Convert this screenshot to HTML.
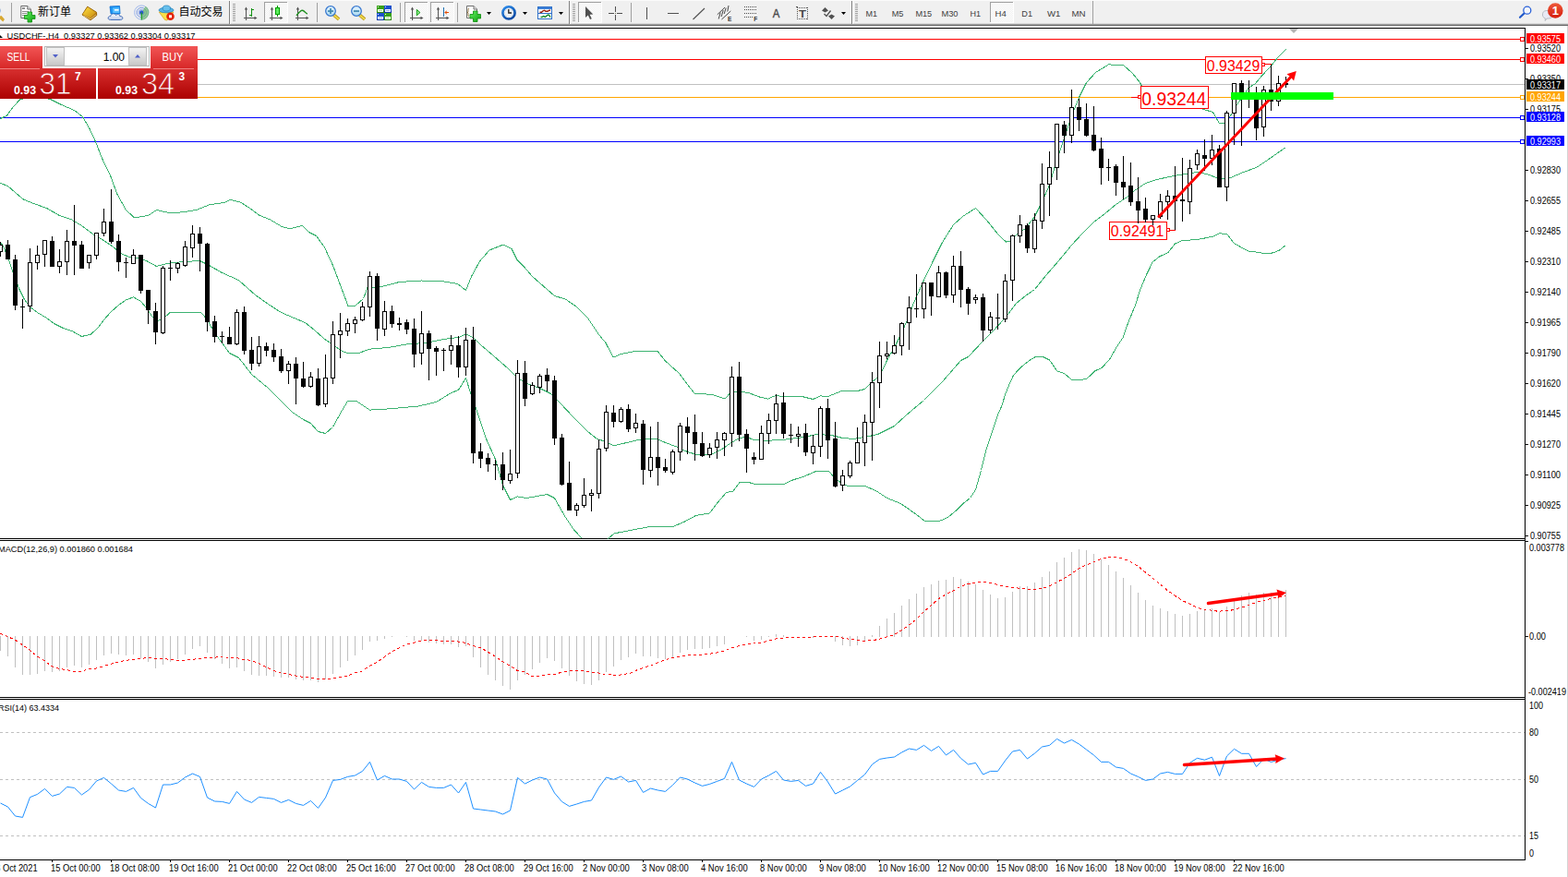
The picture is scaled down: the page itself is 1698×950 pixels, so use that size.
<!DOCTYPE html>
<html><head><meta charset="utf-8"><title>USDCHF H4</title>
<style>
html,body{margin:0;padding:0;background:#fff;}
body{width:1698px;height:950px;overflow:hidden;font-family:"Liberation Sans",sans-serif;}
svg{display:block;position:absolute;left:0;top:0;font-family:"Liberation Sans",sans-serif;}
text{white-space:pre;}
</style></head><body>
<svg width="1698" height="950" viewBox="0 0 1698 950">
<defs>
<linearGradient id="gSell" x1="0" y1="0" x2="0" y2="1"><stop offset="0" stop-color="#f25555"/><stop offset="1" stop-color="#d62626"/></linearGradient>
<linearGradient id="gPrice" x1="0" y1="0" x2="0" y2="1"><stop offset="0" stop-color="#d83030"/><stop offset="1" stop-color="#ac0000"/></linearGradient>
<linearGradient id="gPriceU" gradientUnits="userSpaceOnUse" x1="0" y1="74" x2="0" y2="107"><stop offset="0" stop-color="#d83030"/><stop offset="1" stop-color="#ac0000"/></linearGradient>
<linearGradient id="gBtn" x1="0" y1="0" x2="0" y2="1"><stop offset="0" stop-color="#f4f4f4"/><stop offset="1" stop-color="#c8c8c8"/></linearGradient>
<linearGradient id="gBadge" x1="0" y1="0" x2="0" y2="1"><stop offset="0" stop-color="#ee5a3a"/><stop offset="1" stop-color="#d51c0c"/></linearGradient>
<linearGradient id="gGold" x1="0" y1="0" x2="1" y2="1"><stop offset="0" stop-color="#ffe040"/><stop offset="1" stop-color="#c88a10"/></linearGradient>
<linearGradient id="gPlus" x1="0" y1="0" x2="1" y2="1"><stop offset="0" stop-color="#60f060"/><stop offset="1" stop-color="#10a010"/></linearGradient>
<linearGradient id="gCloud" x1="0" y1="0" x2="0" y2="1"><stop offset="0" stop-color="#ffffff"/><stop offset="1" stop-color="#b8c8e8"/></linearGradient>
<linearGradient id="gLens" x1="0" y1="0" x2="0" y2="1"><stop offset="0" stop-color="#e8f6ff"/><stop offset="1" stop-color="#a8d8f0"/></linearGradient>
<pattern id="chk" width="2" height="2" patternUnits="userSpaceOnUse"><rect width="2" height="2" fill="#ffffff"/><rect width="1" height="1" fill="#f0f0f0"/><rect x="1" y="1" width="1" height="1" fill="#f0f0f0"/></pattern>
</defs>

<g shape-rendering="crispEdges">
<rect x="0" y="0" width="1698" height="950" fill="#ffffff"/>
<rect x="0" y="0" width="1698" height="28" fill="#f0f0f0"/>
<rect x="0" y="0" width="1698" height="1" fill="#fbfbfb"/>
<rect x="0" y="25" width="1698" height="1" fill="#d9d9d9"/>
<rect x="0" y="26" width="1698" height="1" fill="#a0a0a0"/>
<rect x="0" y="27" width="1698" height="1" fill="#6a6a6a"/>
<rect x="1697" y="28" width="1" height="922" fill="#d4d4d4"/>
<rect x="0" y="30" width="1652" height="1" fill="#000"/>
<rect x="0" y="583" width="1652" height="1" fill="#000"/>
<rect x="0" y="585" width="1652" height="1" fill="#000"/>
<rect x="0" y="755" width="1652" height="1" fill="#000"/>
<rect x="0" y="757" width="1652" height="1" fill="#000"/>
<rect x="0" y="931" width="1652" height="1" fill="#000"/>
<rect x="1651" y="30" width="1" height="902" fill="#000"/>
</g>
<g shape-rendering="crispEdges">
<rect x="0" y="42" width="1651" height="1" fill="#ff0000"/>
<rect x="1646.5" y="40.5" width="4" height="4" fill="#fff" stroke="#ff0000" stroke-width="1"/>
<rect x="0" y="64" width="1651" height="1" fill="#ff0000"/>
<rect x="1646.5" y="62.5" width="4" height="4" fill="#fff" stroke="#ff0000" stroke-width="1"/>
<rect x="0" y="91" width="1651" height="1" fill="#c0c0c0"/>
<rect x="0" y="105" width="1651" height="1" fill="#ffa500"/>
<rect x="1646.5" y="103.5" width="4" height="4" fill="#fff" stroke="#ffa500" stroke-width="1"/>
<rect x="0" y="127" width="1651" height="1" fill="#0000ff"/>
<rect x="1646.5" y="125.5" width="4" height="4" fill="#fff" stroke="#0000ff" stroke-width="1"/>
<rect x="0" y="153" width="1651" height="1" fill="#0000ff"/>
<rect x="1646.5" y="151.5" width="4" height="4" fill="#fff" stroke="#0000ff" stroke-width="1"/>
</g>
<g shape-rendering="crispEdges">
<polyline points="0.5,128.5 7.5,125.1 14.5,115.5 21.5,108.0 30.5,105.0 38.5,104.0 47.5,105.5 55.5,108.0 66.5,113.5 80.5,119.5 89.5,126.5 96.5,138.5 103.5,153.5 110.5,171.5 120.5,192.5 126.5,209.5 136.5,227.5 145.5,235.9 160.5,233.5 169.5,227.5 184.5,230.9 200.5,229.5 212.5,227.5 226.5,221.9 242.5,219.5 249.5,216.5 260.5,219.1 270.5,225.5 280.5,233.1 292.5,237.9 304.5,245.1 313.5,247.9 327.5,244.5 334.5,251.5 342.5,255.5 351.5,268.0 360.5,287.5 369.5,311.5 377.0,331.5 384.5,331.5 393.5,323.5 398.0,311.5 411.5,310.9 432.5,305.5 456.5,304.0 477.5,304.5 495.5,307.5 504.5,314.5 510.5,299.5 519.5,283.0 530.0,271.0 545.0,265.0 554.0,269.5 560.0,281.5 567.5,289.0 576.5,299.5 588.5,310.0 600.5,320.5 612.5,324.1 624.5,332.5 636.5,344.5 648.5,362.5 656.0,371.5 664.1,387.1 672.5,383.5 687.5,380.5 712.1,380.5 720.5,391.0 735.5,404.5 744.5,416.5 752.0,426.1 771.5,427.5 785.0,432.1 791.0,425.5 798.5,424.0 810.5,425.5 822.5,430.0 831.5,432.1 839.9,428.5 852.5,429.9 868.5,429.5 880.5,432.5 888.5,428.9 896.5,429.5 910.5,423.9 928.5,423.5 936.5,421.5 944.5,413.5 952.5,407.5 960.5,390.5 968.5,376.5 976.5,360.5 982.5,346.5 988.5,330.5 1000.5,303.5 1010.5,282.5 1020.5,262.5 1032.5,243.5 1042.5,234.5 1056.5,225.5 1068.5,238.5 1080.5,253.5 1089.5,262.1 1094.5,260.9 1100.5,254.5 1110.5,247.5 1120.5,234.5 1128.5,218.5 1136.5,200.5 1142.5,179.5 1150.5,155.5 1160.5,125.5 1168.5,105.5 1176.5,89.5 1186.5,78.5 1200.5,69.9 1216.5,70.5 1226.5,79.5 1234.5,89.5 1236.5,93.5 1303.5,118.5 1313.5,121.5 1320.5,133.9 1325.5,133.9 1332.5,125.5 1339.5,113.5 1352.1,95.2 1359.5,90.5 1365.5,83.1 1376.3,71.5 1383.5,62.5 1392.5,53.5" fill="none" stroke="#3cb371" stroke-width="1" />
<polyline points="0.5,198.5 8.5,201.5 16.5,208.5 25.5,216.1 36.5,220.5 50.5,225.5 64.5,233.5 77.5,237.9 88.5,244.5 100.5,253.5 112.5,260.5 122.5,267.5 132.5,275.5 140.5,278.5 148.5,279.1 158.5,282.5 169.5,288.5 176.5,286.5 188.5,284.5 200.5,283.5 216.5,282.5 226.5,287.5 240.5,295.5 258.5,303.5 276.5,319.5 290.5,329.5 304.5,338.5 318.5,344.5 330.5,349.5 340.5,357.5 350.5,366.5 360.5,373.5 370.5,380.5 376.5,382.5 388.5,382.5 400.5,378.1 420.5,376.5 440.5,372.9 460.5,371.5 480.5,367.5 496.5,365.5 504.5,362.1 512.5,365.5 520.5,373.5 534.5,385.5 550.5,399.5 560.5,409.5 570.5,415.5 584.5,420.5 596.5,426.5 606.5,436.5 620.5,451.5 636.5,467.5 646.5,475.5 656.5,478.5 664.5,482.9 674.5,480.5 688.5,477.1 700.5,475.9 712.5,475.9 720.5,479.5 732.5,483.9 744.5,489.5 754.5,492.5 768.5,492.9 780.5,487.5 790.5,480.5 800.5,474.5 808.5,473.5 816.5,476.5 828.5,477.5 850.5,476.1 870.5,473.5 884.5,470.5 900.5,471.5 912.5,474.5 924.5,475.5 936.5,473.5 950.5,470.5 968.5,461.5 980.5,450.5 1000.5,433.5 1020.5,413.5 1040.5,390.5 1048.5,386.5 1064.5,369.5 1074.5,359.5 1088.5,344.5 1100.5,328.5 1110.5,320.5 1120.5,313.5 1132.5,298.5 1146.5,282.5 1160.5,265.5 1172.5,252.5 1184.5,240.5 1196.5,231.5 1208.5,221.5 1220.5,213.5 1228.5,206.5 1240.5,198.5 1252.5,194.5 1268.5,191.1 1282.5,188.5 1296.5,186.5 1306.5,188.5 1316.5,192.1 1326.5,193.5 1332.5,192.5 1346.5,186.5 1360.5,181.5 1372.5,173.5 1382.5,166.5 1392.5,159.5" fill="none" stroke="#3cb371" stroke-width="1" />
<polyline points="0.5,262.5 3.5,266.5 8.5,278.5 14.5,296.5 20.5,312.5 26.5,324.5 32.5,332.5 40.5,338.5 50.5,344.5 58.5,350.5 68.5,355.5 78.5,358.9 88.5,364.5 98.5,362.1 106.5,354.5 112.5,346.5 120.5,337.5 128.5,330.5 136.5,324.9 144.5,321.9 152.5,326.5 158.5,333.5 164.5,342.5 170.5,347.5 176.5,345.5 184.5,338.1 200.5,338.1 217.5,338.1 224.5,346.5 232.5,360.5 248.5,382.5 258.5,387.5 272.5,405.5 290.5,420.5 304.5,434.5 316.5,446.5 328.5,454.5 336.5,458.5 344.5,467.5 352.5,469.5 360.5,462.5 370.5,444.5 376.5,434.5 386.5,434.9 400.5,444.1 420.5,442.9 452.5,440.1 472.5,435.5 488.5,425.5 496.5,422.5 504.5,409.5 510.5,428.5 516.5,445.5 526.5,475.5 536.5,497.5 544.5,525.5 552.5,541.5 560.5,537.9 570.5,539.5 592.5,535.5 600.5,539.5 612.5,560.5 621.5,574.0 630.5,583.5" fill="none" stroke="#3cb371" stroke-width="1" />
<polyline points="658.5,583.5 665.0,577.9 687.5,573.5 704.0,570.5 729.5,570.1 741.5,565.0 753.5,558.5 768.5,556.0 777.5,544.0 786.5,533.5 794.0,532.0 800.9,522.5 810.5,522.5 819.5,524.8 848.0,524.8 858.5,520.0 870.5,516.1 882.5,511.0 897.5,510.5 903.5,517.0 912.5,524.5 918.5,526.5 936.5,526.5 948.5,531.5 960.5,539.5 975.5,545.5 990.5,556.0 1001.0,564.1 1016.0,565.0 1026.5,560.5 1035.5,553.0 1043.0,545.5 1050.5,539.5 1056.5,530.5 1062.5,509.5 1068.5,485.5 1074.5,467.5 1080.5,449.5 1084.5,440.5 1088.7,427.1 1092.9,416.5 1097.0,407.5 1101.7,401.8 1108.8,395.0 1114.7,390.5 1120.5,387.0 1130.0,386.8 1136.5,390.0 1144.7,401.8 1152.3,404.5 1161.2,411.8 1170.0,411.8 1177.1,410.0 1185.9,401.8 1193.5,398.2 1201.8,388.8 1208.9,376.5 1216.0,365.8 1221.8,349.3 1229.5,330.5 1234.5,314.5 1241.3,297.9 1248.3,283.8 1255.4,278.1 1265.3,273.2 1272.4,264.0 1279.4,260.9 1290.7,259.8 1300.6,258.8 1313.4,256.2 1320.4,252.7 1328.9,253.8 1336.0,263.3 1344.5,268.2 1352.9,272.5 1362.8,273.2 1369.9,275.0 1378.4,273.9 1385.5,271.1 1392.2,265.7" fill="none" stroke="#3cb371" stroke-width="1" />
</g>
<g shape-rendering="crispEdges">
<rect x="1225" y="105" width="8" height="1" fill="#ff0000"/>
<rect x="1232.5" y="103.5" width="3" height="3" fill="#fff" stroke="#ff0000"/>
<rect x="1366.5" y="68.5" width="3" height="3" fill="#fff" stroke="#ff0000"/>
<rect x="1370" y="69" width="7" height="1" fill="#ff0000"/>
<rect x="1263.5" y="247.5" width="3" height="3" fill="#fff" stroke="#ff0000"/>
<rect x="1267" y="249" width="6" height="1" fill="#ff0000"/>
</g>
<rect x="1235.5" y="93.5" width="73" height="24" fill="#fff" stroke="#ff0000" stroke-width="1" shape-rendering="crispEdges"/>
<text x="1236.3" y="113.8" font-size="21" fill="#ff0000" textLength="70" lengthAdjust="spacingAndGlyphs" >0.93244</text>
<rect x="1305.5" y="61.5" width="61" height="18" fill="#fff" stroke="#ff0000" stroke-width="1" shape-rendering="crispEdges"/>
<text x="1306.8" y="76.9" font-size="16.7" fill="#ff0000" textLength="57.5" lengthAdjust="spacingAndGlyphs" >0.93429</text>
<rect x="1201.5" y="240.5" width="62" height="19" fill="#fff" stroke="#ff0000" stroke-width="1" shape-rendering="crispEdges"/>
<text x="1202.8" y="255.9" font-size="16.7" fill="#ff0000" textLength="57.5" lengthAdjust="spacingAndGlyphs" >0.92491</text>
<g shape-rendering="crispEdges">
<path d="M0 262h1v16h-1zM-2 265h5v8h-5zM8 260h1v21h-1zM6 265h5v16h-5zM16 276h1v60h-1zM14 281h5v50h-5zM24 324h1v32h-1zM22 332h5v1h-5zM32 269h1v69h-1zM30 284h5v48h-5zM40 266h1v26h-1zM38 276h5v9h-5zM48 260h1v29h-1zM46 260h5v16h-5zM56 256h1v33h-1zM54 261h5v28h-5zM64 270h1v26h-1zM62 283h5v6h-5zM72 249h1v49h-1zM70 261h5v23h-5zM80 222h1v76h-1zM78 261h5v5h-5zM88 261h1v30h-1zM86 265h5v26h-5zM96 276h1v15h-1zM94 276h5v9h-5zM104 252h1v29h-1zM102 252h5v25h-5zM112 226h1v30h-1zM110 240h5v13h-5zM120 205h1v59h-1zM118 240h5v22h-5zM128 254h1v40h-1zM126 261h5v23h-5zM136 279h1v22h-1zM134 284h5v1h-5zM144 270h1v16h-1zM142 276h5v10h-5zM152 276h1v42h-1zM150 276h5v39h-5zM160 314h1v37h-1zM158 314h5v22h-5zM168 328h1v45h-1zM166 337h5v23h-5zM176 288h1v74h-1zM174 290h5v71h-5zM184 282h1v22h-1zM182 290h5v1h-5zM192 284h1v12h-1zM190 285h5v6h-5zM200 261h1v28h-1zM198 267h5v21h-5zM208 244h1v35h-1zM206 253h5v16h-5zM216 246h1v48h-1zM214 253h5v11h-5zM224 263h1v96h-1zM222 264h5v85h-5zM232 342h1v29h-1zM230 348h5v17h-5zM240 359h1v13h-1zM238 364h5v1h-5zM248 354h1v19h-1zM246 365h5v8h-5zM256 335h1v39h-1zM254 338h5v35h-5zM264 332h1v52h-1zM262 338h5v42h-5zM272 365h1v36h-1zM270 379h5v15h-5zM280 364h1v33h-1zM278 375h5v19h-5zM288 371h1v15h-1zM286 375h5v5h-5zM296 372h1v20h-1zM294 379h5v8h-5zM304 378h1v26h-1zM302 386h5v16h-5zM312 391h1v25h-1zM310 394h5v8h-5zM320 387h1v51h-1zM318 394h5v16h-5zM328 392h1v28h-1zM326 410h5v9h-5zM336 403h1v17h-1zM334 408h5v11h-5zM344 399h1v41h-1zM342 410h5v29h-5zM352 384h1v57h-1zM350 409h5v29h-5zM360 348h1v68h-1zM358 362h5v48h-5zM368 339h1v49h-1zM366 358h5v5h-5zM376 345h1v19h-1zM374 350h5v9h-5zM384 343h1v18h-1zM382 346h5v5h-5zM392 327h1v21h-1zM390 332h5v15h-5zM400 294h1v49h-1zM398 299h5v34h-5zM408 296h1v73h-1zM406 299h5v57h-5zM416 326h1v38h-1zM414 337h5v20h-5zM424 331h1v24h-1zM422 337h5v14h-5zM432 344h1v14h-1zM430 350h5v2h-5zM440 346h1v16h-1zM438 349h5v8h-5zM448 345h1v53h-1zM446 356h5v28h-5zM456 337h1v58h-1zM454 361h5v22h-5zM464 358h1v54h-1zM462 361h5v17h-5zM472 375h1v32h-1zM470 377h5v4h-5zM480 377h1v25h-1zM478 379h5v1h-5zM488 363h1v32h-1zM486 374h5v6h-5zM496 364h1v45h-1zM494 374h5v24h-5zM504 355h1v52h-1zM502 368h5v30h-5zM512 354h1v148h-1zM510 368h5v123h-5zM520 480h1v27h-1zM518 489h5v8h-5zM528 491h1v20h-1zM526 496h5v7h-5zM536 498h1v22h-1zM534 503h5v1h-5zM544 490h1v41h-1zM542 503h5v17h-5zM552 487h1v37h-1zM550 513h5v8h-5zM560 390h1v128h-1zM558 404h5v109h-5zM568 391h1v49h-1zM566 404h5v28h-5zM576 414h1v14h-1zM574 417h5v10h-5zM584 405h1v21h-1zM582 407h5v13h-5zM592 399h1v25h-1zM590 406h5v7h-5zM600 407h1v75h-1zM598 412h5v63h-5zM608 470h1v56h-1zM606 474h5v51h-5zM616 500h1v53h-1zM614 523h5v30h-5zM624 545h1v14h-1zM622 547h5v6h-5zM632 518h1v32h-1zM630 536h5v12h-5zM640 530h1v24h-1zM638 534h5v3h-5zM648 476h1v64h-1zM646 486h5v49h-5zM656 439h1v50h-1zM654 446h5v40h-5zM664 439h1v24h-1zM662 447h5v10h-5zM672 441h1v17h-1zM670 443h5v14h-5zM680 438h1v30h-1zM678 443h5v22h-5zM688 448h1v21h-1zM686 458h5v6h-5zM696 455h1v70h-1zM694 459h5v50h-5zM704 462h1v55h-1zM702 495h5v15h-5zM712 457h1v69h-1zM710 495h5v12h-5zM720 497h1v15h-1zM718 506h5v4h-5zM728 487h1v27h-1zM726 489h5v23h-5zM736 458h1v41h-1zM734 461h5v29h-5zM744 452h1v40h-1zM742 462h5v7h-5zM752 449h1v50h-1zM750 468h5v13h-5zM760 468h1v27h-1zM758 480h5v14h-5zM768 480h1v16h-1zM766 485h5v8h-5zM776 468h1v29h-1zM774 476h5v9h-5zM784 468h1v26h-1zM782 469h5v8h-5zM792 397h1v87h-1zM790 408h5v62h-5zM800 392h1v86h-1zM798 408h5v63h-5zM808 465h1v47h-1zM806 470h5v16h-5zM816 490h1v13h-1zM814 495h5v3h-5zM824 461h1v37h-1zM822 469h5v29h-5zM832 448h1v33h-1zM830 455h5v15h-5zM840 427h1v43h-1zM838 437h5v19h-5zM848 425h1v50h-1zM846 436h5v34h-5zM856 459h1v21h-1zM854 471h5v1h-5zM864 462h1v22h-1zM862 470h5v3h-5zM872 459h1v35h-1zM870 469h5v21h-5zM880 471h1v32h-1zM878 483h5v8h-5zM888 440h1v55h-1zM886 442h5v42h-5zM896 432h1v65h-1zM894 442h5v35h-5zM904 457h1v71h-1zM902 475h5v52h-5zM912 509h1v23h-1zM910 515h5v11h-5zM920 499h1v19h-1zM918 501h5v15h-5zM928 463h1v39h-1zM926 479h5v23h-5zM936 449h1v56h-1zM934 457h5v23h-5zM944 403h1v96h-1zM942 414h5v44h-5zM952 370h1v72h-1zM950 385h5v30h-5zM960 370h1v19h-1zM958 383h5v3h-5zM968 363h1v21h-1zM966 374h5v9h-5zM976 349h1v36h-1zM974 350h5v25h-5zM984 321h1v58h-1zM982 333h5v17h-5zM992 297h1v47h-1zM990 334h5v1h-5zM1000 306h1v39h-1zM998 306h5v29h-5zM1008 306h1v36h-1zM1006 306h5v15h-5zM1016 288h1v34h-1zM1014 295h5v27h-5zM1024 294h1v29h-1zM1022 295h5v25h-5zM1032 277h1v51h-1zM1030 288h5v32h-5zM1040 272h1v61h-1zM1038 288h5v26h-5zM1048 311h1v30h-1zM1046 313h5v16h-5zM1056 319h1v10h-1zM1054 322h5v3h-5zM1064 318h1v52h-1zM1062 322h5v36h-5zM1072 338h1v23h-1zM1070 343h5v15h-5zM1080 318h1v39h-1zM1078 344h5v1h-5zM1088 297h1v52h-1zM1086 304h5v42h-5zM1096 254h1v72h-1zM1094 255h5v49h-5zM1104 233h1v30h-1zM1102 243h5v13h-5zM1112 242h1v32h-1zM1110 244h5v25h-5zM1120 231h1v43h-1zM1118 238h5v32h-5zM1128 177h1v71h-1zM1126 199h5v41h-5zM1136 164h1v70h-1zM1134 181h5v19h-5zM1144 134h1v61h-1zM1142 134h5v48h-5zM1152 131h1v35h-1zM1150 135h5v12h-5zM1160 97h1v58h-1zM1158 116h5v31h-5zM1168 107h1v35h-1zM1166 116h5v14h-5zM1176 112h1v36h-1zM1174 129h5v18h-5zM1184 115h1v49h-1zM1182 146h5v17h-5zM1192 149h1v51h-1zM1190 161h5v21h-5zM1200 172h1v24h-1zM1198 181h5v1h-5zM1208 178h1v34h-1zM1206 180h5v18h-5zM1216 169h1v47h-1zM1214 197h5v6h-5zM1224 176h1v47h-1zM1222 201h5v18h-5zM1232 192h1v50h-1zM1230 218h5v10h-5zM1240 214h1v27h-1zM1238 226h5v12h-5zM1248 233h1v11h-1zM1246 233h5v5h-5zM1256 210h1v27h-1zM1254 218h5v17h-5zM1264 206h1v32h-1zM1262 212h5v7h-5zM1272 180h1v69h-1zM1270 212h5v6h-5zM1280 171h1v69h-1zM1278 216h5v2h-5zM1288 173h1v59h-1zM1286 182h5v37h-5zM1296 162h1v22h-1zM1294 166h5v13h-5zM1304 151h1v34h-1zM1302 168h5v4h-5zM1312 146h1v33h-1zM1310 162h5v10h-5zM1320 157h1v46h-1zM1318 161h5v42h-5zM1328 120h1v98h-1zM1326 122h5v81h-5zM1336 90h1v67h-1zM1334 90h5v33h-5zM1344 87h1v71h-1zM1342 90h5v14h-5zM1352 87h1v30h-1zM1350 103h5v1h-5zM1360 94h1v58h-1zM1358 104h5v35h-5zM1368 93h1v55h-1zM1366 97h5v41h-5zM1376 70h1v50h-1zM1374 97h5v13h-5zM1384 82h1v33h-1zM1382 90h5v20h-5zM1392 83h1v12h-1zM1390 90h5v2h-5z" fill="#000"/>
<path d="M-1 266h3v6h-3zM31 285h3v46h-3zM39 277h3v7h-3zM47 261h3v14h-3zM63 284h3v4h-3zM71 262h3v21h-3zM95 277h3v7h-3zM103 253h3v23h-3zM111 241h3v11h-3zM143 277h3v8h-3zM175 291h3v69h-3zM191 286h3v4h-3zM199 268h3v19h-3zM207 254h3v14h-3zM255 339h3v33h-3zM279 376h3v17h-3zM311 395h3v6h-3zM335 409h3v9h-3zM351 410h3v27h-3zM359 363h3v46h-3zM367 359h3v3h-3zM375 351h3v7h-3zM383 347h3v3h-3zM391 333h3v13h-3zM399 300h3v32h-3zM415 338h3v18h-3zM455 362h3v20h-3zM487 375h3v4h-3zM503 369h3v28h-3zM551 514h3v6h-3zM559 405h3v107h-3zM575 418h3v8h-3zM583 408h3v11h-3zM623 548h3v4h-3zM631 537h3v10h-3zM639 535h3v1h-3zM647 487h3v47h-3zM655 447h3v38h-3zM671 444h3v12h-3zM687 459h3v4h-3zM703 496h3v13h-3zM727 490h3v21h-3zM735 462h3v27h-3zM767 486h3v6h-3zM775 477h3v7h-3zM783 470h3v6h-3zM791 409h3v60h-3zM823 470h3v27h-3zM831 456h3v13h-3zM839 438h3v17h-3zM863 471h3v1h-3zM879 484h3v6h-3zM887 443h3v40h-3zM911 516h3v9h-3zM919 502h3v13h-3zM927 480h3v21h-3zM935 458h3v21h-3zM943 415h3v42h-3zM951 386h3v28h-3zM959 384h3v1h-3zM967 375h3v7h-3zM975 351h3v23h-3zM983 334h3v15h-3zM999 307h3v27h-3zM1015 296h3v25h-3zM1031 289h3v30h-3zM1055 323h3v1h-3zM1071 344h3v13h-3zM1087 305h3v40h-3zM1095 256h3v47h-3zM1103 244h3v11h-3zM1119 239h3v30h-3zM1127 200h3v39h-3zM1135 182h3v17h-3zM1143 135h3v46h-3zM1159 117h3v29h-3zM1247 234h3v3h-3zM1255 219h3v15h-3zM1263 213h3v5h-3zM1287 183h3v35h-3zM1295 167h3v11h-3zM1311 163h3v8h-3zM1327 123h3v79h-3zM1335 91h3v31h-3zM1367 98h3v39h-3zM1383 91h3v18h-3z" fill="#fff"/>
</g>
<line x1="1255.0" y1="234.5" x2="1398.6" y2="82.5" stroke="#ff0000" stroke-width="3.0" stroke-linecap="round"/>
<polygon points="1403.8,77.0 1401.1,87.5 1397.8,83.4 1393.5,80.3" fill="#ff0000"/>
<rect x="1333" y="100" width="111" height="8" fill="#00ff00" shape-rendering="crispEdges"/>
<polygon points="1396,31 1406,31 1401,36" fill="#b4b4b4"/>
<g shape-rendering="crispEdges">
<rect x="1652" y="52" width="3" height="1" fill="#000"/>
<rect x="1652" y="85" width="3" height="1" fill="#000"/>
<rect x="1652" y="118" width="3" height="1" fill="#000"/>
<rect x="1652" y="184" width="3" height="1" fill="#000"/>
<rect x="1652" y="217" width="3" height="1" fill="#000"/>
<rect x="1652" y="250" width="3" height="1" fill="#000"/>
<rect x="1652" y="283" width="3" height="1" fill="#000"/>
<rect x="1652" y="316" width="3" height="1" fill="#000"/>
<rect x="1652" y="349" width="3" height="1" fill="#000"/>
<rect x="1652" y="382" width="3" height="1" fill="#000"/>
<rect x="1652" y="415" width="3" height="1" fill="#000"/>
<rect x="1652" y="448" width="3" height="1" fill="#000"/>
<rect x="1652" y="481" width="3" height="1" fill="#000"/>
<rect x="1652" y="514" width="3" height="1" fill="#000"/>
<rect x="1652" y="547" width="3" height="1" fill="#000"/>
<rect x="1652" y="580" width="3" height="1" fill="#000"/>
</g>
<text x="1657" y="56" font-size="10" fill="#000" textLength="33" lengthAdjust="spacingAndGlyphs" >0.93520</text>
<text x="1657" y="89" font-size="10" fill="#000" textLength="33" lengthAdjust="spacingAndGlyphs" >0.93350</text>
<text x="1657" y="122" font-size="10" fill="#000" textLength="33" lengthAdjust="spacingAndGlyphs" >0.93175</text>
<text x="1657" y="188" font-size="10" fill="#000" textLength="33" lengthAdjust="spacingAndGlyphs" >0.92830</text>
<text x="1657" y="221" font-size="10" fill="#000" textLength="33" lengthAdjust="spacingAndGlyphs" >0.92655</text>
<text x="1657" y="254" font-size="10" fill="#000" textLength="33" lengthAdjust="spacingAndGlyphs" >0.92485</text>
<text x="1657" y="287" font-size="10" fill="#000" textLength="33" lengthAdjust="spacingAndGlyphs" >0.92310</text>
<text x="1657" y="320" font-size="10" fill="#000" textLength="33" lengthAdjust="spacingAndGlyphs" >0.92140</text>
<text x="1657" y="353" font-size="10" fill="#000" textLength="33" lengthAdjust="spacingAndGlyphs" >0.91965</text>
<text x="1657" y="386" font-size="10" fill="#000" textLength="33" lengthAdjust="spacingAndGlyphs" >0.91790</text>
<text x="1657" y="419" font-size="10" fill="#000" textLength="33" lengthAdjust="spacingAndGlyphs" >0.91620</text>
<text x="1657" y="452" font-size="10" fill="#000" textLength="33" lengthAdjust="spacingAndGlyphs" >0.91445</text>
<text x="1657" y="485" font-size="10" fill="#000" textLength="33" lengthAdjust="spacingAndGlyphs" >0.91270</text>
<text x="1657" y="518" font-size="10" fill="#000" textLength="33" lengthAdjust="spacingAndGlyphs" >0.91100</text>
<text x="1657" y="551" font-size="10" fill="#000" textLength="33" lengthAdjust="spacingAndGlyphs" >0.90925</text>
<text x="1657" y="584" font-size="10" fill="#000" textLength="33" lengthAdjust="spacingAndGlyphs" >0.90755</text>
<rect x="1653" y="36" width="41" height="11" fill="#ff0000" shape-rendering="crispEdges"/>
<text x="1657" y="45.5" font-size="10" fill="#fff" textLength="33" lengthAdjust="spacingAndGlyphs" >0.93575</text>
<rect x="1653" y="58" width="41" height="11" fill="#ff0000" shape-rendering="crispEdges"/>
<text x="1657" y="67.5" font-size="10" fill="#fff" textLength="33" lengthAdjust="spacingAndGlyphs" >0.93460</text>
<rect x="1653" y="86" width="41" height="11" fill="#000000" shape-rendering="crispEdges"/>
<text x="1657" y="95.5" font-size="10" fill="#fff" textLength="33" lengthAdjust="spacingAndGlyphs" >0.93317</text>
<rect x="1653" y="99" width="41" height="11" fill="#ffa500" shape-rendering="crispEdges"/>
<text x="1657" y="108.5" font-size="10" fill="#fff" textLength="33" lengthAdjust="spacingAndGlyphs" >0.93244</text>
<rect x="1653" y="121" width="41" height="11" fill="#0000ff" shape-rendering="crispEdges"/>
<text x="1657" y="130.5" font-size="10" fill="#fff" textLength="33" lengthAdjust="spacingAndGlyphs" >0.93128</text>
<rect x="1653" y="147" width="41" height="11" fill="#0000ff" shape-rendering="crispEdges"/>
<text x="1657" y="156.5" font-size="10" fill="#fff" textLength="33" lengthAdjust="spacingAndGlyphs" >0.92993</text>
<text x="1656" y="597" font-size="10" fill="#000" textLength="38" lengthAdjust="spacingAndGlyphs" >0.003778</text>
<text x="1656" y="693" font-size="10" fill="#000" textLength="18" lengthAdjust="spacingAndGlyphs" >0.00</text>
<text x="1655" y="753" font-size="10" fill="#000" textLength="41" lengthAdjust="spacingAndGlyphs" >-0.002419</text>
<g shape-rendering="crispEdges"><rect x="1652" y="586" width="3" height="1" fill="#000"/><rect x="1652" y="689" width="3" height="1" fill="#000"/></g>
<text x="1656" y="768" font-size="10" fill="#000" textLength="15" lengthAdjust="spacingAndGlyphs" >100</text>
<text x="1656" y="797" font-size="10" fill="#000" textLength="10" lengthAdjust="spacingAndGlyphs" >80</text>
<text x="1656" y="848" font-size="10" fill="#000" textLength="10" lengthAdjust="spacingAndGlyphs" >50</text>
<text x="1656" y="909" font-size="10" fill="#000" textLength="10" lengthAdjust="spacingAndGlyphs" >15</text>
<text x="1656" y="928" font-size="10" fill="#000" textLength="5" lengthAdjust="spacingAndGlyphs" >0</text>
<path d="M0 689h1v16h-1zM8 689h1v22h-1zM16 689h1v34h-1zM24 689h1v42h-1zM32 689h1v42h-1zM40 689h1v41h-1zM48 689h1v38h-1zM56 689h1v39h-1zM64 689h1v38h-1zM72 689h1v34h-1zM80 689h1v32h-1zM88 689h1v34h-1zM96 689h1v31h-1zM104 689h1v26h-1zM112 689h1v21h-1zM120 689h1v19h-1zM128 689h1v20h-1zM136 689h1v21h-1zM144 689h1v20h-1zM152 689h1v24h-1zM160 689h1v28h-1zM168 689h1v35h-1zM176 689h1v31h-1zM184 689h1v28h-1zM192 689h1v25h-1zM200 689h1v20h-1zM208 689h1v14h-1zM216 689h1v11h-1zM224 689h1v18h-1zM232 689h1v25h-1zM240 689h1v30h-1zM248 689h1v35h-1zM256 689h1v34h-1zM264 689h1v38h-1zM272 689h1v42h-1zM280 689h1v43h-1zM288 689h1v43h-1zM296 689h1v44h-1zM304 689h1v45h-1zM312 689h1v45h-1zM320 689h1v47h-1zM328 689h1v48h-1zM336 689h1v48h-1zM344 689h1v50h-1zM352 689h1v47h-1zM360 689h1v41h-1zM368 689h1v34h-1zM376 689h1v27h-1zM384 689h1v21h-1zM392 689h1v15h-1zM400 689h1v6h-1zM408 689h1v5h-1zM416 689h1v3h-1zM424 689h1v1h-1zM440 689h1v1h-1zM448 689h1v5h-1zM456 689h1v5h-1zM464 689h1v7h-1zM472 689h1v8h-1zM480 689h1v9h-1zM488 689h1v9h-1zM496 689h1v12h-1zM504 689h1v11h-1zM512 689h1v23h-1zM520 689h1v34h-1zM528 689h1v42h-1zM536 689h1v48h-1zM544 689h1v54h-1zM552 689h1v58h-1zM560 689h1v48h-1zM568 689h1v42h-1zM576 689h1v36h-1zM584 689h1v29h-1zM592 689h1v24h-1zM600 689h1v27h-1zM608 689h1v35h-1zM616 689h1v43h-1zM624 689h1v49h-1zM632 689h1v52h-1zM640 689h1v53h-1zM648 689h1v48h-1zM656 689h1v39h-1zM664 689h1v33h-1zM672 689h1v26h-1zM680 689h1v23h-1zM688 689h1v19h-1zM696 689h1v22h-1zM704 689h1v22h-1zM712 689h1v24h-1zM720 689h1v25h-1zM728 689h1v23h-1zM736 689h1v18h-1zM744 689h1v15h-1zM752 689h1v14h-1zM760 689h1v14h-1zM768 689h1v13h-1zM776 689h1v11h-1zM784 689h1v9h-1zM808 689h1v1h-1zM816 689h1v5h-1zM824 689h1v4h-1zM832 689h1v1h-1zM840 687h1v3h-1zM848 688h1v2h-1zM880 689h1v2h-1zM904 689h1v6h-1zM912 689h1v10h-1zM920 689h1v11h-1zM928 689h1v10h-1zM936 689h1v5h-1zM944 688h1v2h-1zM952 678h1v12h-1zM960 670h1v20h-1zM968 664h1v26h-1zM976 656h1v34h-1zM984 649h1v41h-1zM992 643h1v47h-1zM1000 636h1v54h-1zM1008 633h1v57h-1zM1016 629h1v61h-1zM1024 628h1v62h-1zM1032 625h1v65h-1zM1040 627h1v63h-1zM1048 630h1v60h-1zM1056 633h1v57h-1zM1064 639h1v51h-1zM1072 644h1v46h-1zM1080 648h1v42h-1zM1088 647h1v43h-1zM1096 641h1v49h-1zM1104 635h1v55h-1zM1112 635h1v55h-1zM1120 631h1v59h-1zM1128 625h1v65h-1zM1136 619h1v71h-1zM1144 609h1v81h-1zM1152 604h1v86h-1zM1160 598h1v92h-1zM1168 595h1v95h-1zM1176 596h1v94h-1zM1184 600h1v90h-1zM1192 606h1v84h-1zM1200 612h1v78h-1zM1208 619h1v71h-1zM1216 626h1v64h-1zM1224 634h1v56h-1zM1232 642h1v48h-1zM1240 650h1v40h-1zM1248 656h1v34h-1zM1256 659h1v31h-1zM1264 662h1v28h-1zM1272 665h1v25h-1zM1280 667h1v23h-1zM1288 665h1v25h-1zM1296 662h1v28h-1zM1304 661h1v29h-1zM1312 659h1v31h-1zM1320 663h1v27h-1zM1328 657h1v33h-1zM1336 650h1v40h-1zM1344 645h1v45h-1zM1352 642h1v48h-1zM1360 644h1v46h-1zM1368 642h1v48h-1zM1376 642h1v48h-1zM1384 643h1v47h-1zM1392 639h1v51h-1z" fill="#c0c0c0" shape-rendering="crispEdges"/>
<polyline points="0.0,686.4 8.0,689.4 16.0,693.0 24.0,698.4 32.0,704.0 40.0,711.0 48.0,715.6 56.0,721.6 64.0,724.4 72.0,725.6 80.0,727.4 88.0,727.0 96.0,725.0 104.0,724.0 112.0,721.6 120.0,719.4 128.0,717.0 136.0,715.4 144.0,714.4 152.0,713.6 160.0,712.4 168.0,713.4 176.0,713.4 184.0,714.4 192.0,715.4 200.0,715.4 208.0,714.4 216.0,713.4 224.0,712.4 232.0,712.2 240.0,711.2 248.0,712.4 256.0,712.4 264.0,714.4 272.0,715.4 280.0,718.4 288.0,722.4 296.0,726.4 304.0,728.4 312.0,730.4 320.0,732.0 328.0,733.4 336.0,734.0 344.0,735.4 352.0,735.4 360.0,735.0 368.0,733.6 376.0,732.4 384.0,729.0 392.0,727.0 400.0,721.4 408.0,717.4 416.0,712.0 424.0,706.0 432.0,702.0 440.0,698.0 448.0,696.4 456.0,694.0 464.0,693.4 472.0,693.4 480.0,694.4 488.0,694.4 496.0,695.0 504.0,696.4 512.0,699.4 520.0,701.6 528.0,706.0 536.0,711.0 544.0,716.4 552.0,721.0 560.0,726.4 568.0,728.0 576.0,732.4 584.0,732.4 592.0,731.0 600.0,730.4 608.0,728.4 616.0,727.0 624.0,726.4 632.0,726.4 640.0,728.0 648.0,729.0 656.0,730.6 664.0,731.2 672.0,731.0 682.0,729.4 688.0,726.6 696.0,723.6 704.0,721.0 712.0,718.0 720.0,715.0 728.0,712.4 736.0,711.0 744.0,710.0 752.0,709.4 760.0,709.2 768.0,708.4 776.0,707.0 784.0,705.4 792.0,702.0 800.0,699.6 808.0,698.4 816.0,697.0 824.0,696.0 832.0,694.4 840.0,692.0 848.0,691.4 856.0,690.4 864.0,690.2 872.0,690.0 880.0,690.0 888.0,689.4 896.0,689.2 904.0,689.2 912.0,691.0 920.0,692.4 928.0,693.4 936.0,694.2 944.0,693.8 952.0,692.4 960.0,690.0 968.0,688.0 976.0,683.0 984.0,677.4 992.0,671.0 1000.0,663.0 1008.0,656.0 1016.0,649.0 1024.0,644.0 1032.0,640.0 1040.0,635.4 1048.0,632.4 1056.0,631.2 1064.0,630.4 1072.0,631.2 1080.0,633.4 1088.0,635.0 1096.0,636.4 1104.0,637.2 1112.0,638.2 1120.0,638.2 1128.0,637.4 1136.0,635.0 1144.0,631.0 1152.0,626.6 1160.0,622.0 1168.0,616.0 1176.0,612.0 1184.0,609.0 1192.0,605.6 1200.0,603.4 1208.0,603.4 1216.0,605.0 1224.0,608.4 1232.0,613.0 1240.0,619.6 1248.0,626.0 1256.0,632.6 1264.0,639.4 1272.0,645.0 1282.0,651.3 1289.5,654.7 1295.8,657.9 1301.0,659.5 1307.4,660.5 1313.7,661.4 1320.0,662.4 1325.3,661.4 1331.6,661.4 1336.8,660.3 1343.2,658.4 1349.5,656.5 1355.8,654.2 1361.0,652.1 1367.4,650.5 1373.7,649.2 1377.9,647.4 1384.0,647.4 1392.0,645.0" fill="none" stroke="#ff0000" stroke-width="1" stroke-dasharray="3 3" shape-rendering="crispEdges"/>
<line x1="1308.5" y1="653.5" x2="1385.1" y2="643.1" stroke="#ff0000" stroke-width="3.5" stroke-linecap="round"/>
<polygon points="1393.0,642.0 1383.8,648.3 1383.9,643.2 1382.4,638.4" fill="#ff0000"/>
<text x="-2" y="598" font-size="9.5" fill="#000" textLength="146" lengthAdjust="spacingAndGlyphs" >MACD(12,26,9) 0.001860 0.001684</text>
<g shape-rendering="crispEdges">
<line x1="0" y1="793.5" x2="1651" y2="793.5" stroke="#c0c0c0" stroke-width="1" stroke-dasharray="3 3"/>
<line x1="0" y1="844.5" x2="1651" y2="844.5" stroke="#c0c0c0" stroke-width="1" stroke-dasharray="3 3"/>
<line x1="0" y1="905.5" x2="1651" y2="905.5" stroke="#c0c0c0" stroke-width="1" stroke-dasharray="3 3"/>
</g>
<polyline points="0.5,870.0 8.5,874.0 16.5,884.0 24.5,885.4 32.5,863.6 40.5,860.4 48.5,854.4 56.5,862.4 64.5,860.0 72.5,852.4 80.5,853.4 88.5,861.0 96.5,855.4 104.5,846.0 112.5,842.4 120.5,849.0 128.5,856.0 136.5,857.4 144.5,853.4 152.5,864.4 160.5,870.4 168.5,875.0 176.5,850.0 184.5,850.0 192.5,848.0 200.5,842.0 208.5,838.0 216.5,841.4 224.5,864.0 232.5,868.0 240.5,868.4 248.5,870.4 256.5,857.4 264.5,866.0 272.5,869.4 280.5,863.4 288.5,864.4 296.5,865.4 304.5,869.4 312.5,866.4 320.5,870.4 328.5,872.4 336.5,867.4 344.5,875.4 352.5,864.0 360.5,845.4 368.5,844.4 376.5,841.4 384.5,840.0 392.5,835.4 400.5,825.4 408.5,845.0 416.5,840.4 424.5,844.0 432.5,844.0 440.5,846.4 448.5,855.0 456.5,847.4 464.5,852.4 472.5,853.4 480.5,853.4 488.5,850.0 496.5,859.0 504.5,847.4 512.5,876.0 520.5,877.0 528.5,878.0 536.5,879.0 544.5,882.0 552.5,878.0 560.5,842.4 568.5,849.0 576.5,845.0 584.5,842.0 592.5,844.0 600.5,859.0 608.5,868.4 616.5,873.4 624.5,871.0 632.5,868.4 640.5,867.0 648.5,853.0 656.5,842.0 664.5,844.4 672.5,841.0 680.5,847.0 688.5,845.4 696.5,858.4 704.5,854.0 712.5,856.0 720.5,857.4 728.5,850.4 736.5,842.0 744.5,844.0 752.5,848.0 760.5,851.4 768.5,849.4 776.5,846.4 784.5,843.4 792.5,825.4 800.5,845.0 808.5,849.0 816.5,852.4 824.5,844.0 832.5,840.0 840.5,835.4 848.5,845.0 856.5,846.4 864.5,845.4 872.5,851.4 880.5,849.0 888.5,836.4 896.5,847.0 904.5,860.0 912.5,856.0 920.5,852.0 928.5,845.4 936.5,839.0 944.5,828.0 952.5,822.4 960.5,821.0 968.5,820.0 976.5,815.0 984.5,811.0 992.5,812.4 1000.5,807.4 1008.5,813.4 1016.5,808.4 1024.5,818.0 1032.5,812.4 1040.5,821.4 1048.5,828.0 1056.5,826.4 1064.5,839.0 1072.5,835.4 1080.5,835.4 1088.5,824.0 1096.5,814.0 1104.5,812.4 1112.5,822.0 1120.5,816.0 1128.5,809.0 1136.5,807.4 1144.5,800.4 1152.5,805.0 1160.5,801.4 1168.5,806.0 1176.5,812.0 1184.5,818.0 1192.5,825.4 1200.5,825.4 1208.5,831.0 1216.5,832.4 1224.5,838.0 1232.5,841.4 1240.5,845.4 1248.5,844.0 1256.5,838.0 1264.5,836.4 1272.5,838.4 1280.5,838.4 1288.5,826.3 1296.5,821.3 1304.5,823.2 1312.5,820.2 1320.5,840.5 1328.5,819.0 1336.5,811.3 1344.5,816.3 1352.5,816.3 1360.5,830.5 1368.5,822.0 1376.5,825.5 1384.5,823.0 1392.5,821.6" fill="none" stroke="#1e90ff" stroke-width="1" />
<line x1="1282.5" y1="828.5" x2="1383.0" y2="822.0" stroke="#ff0000" stroke-width="3.5" stroke-linecap="round"/>
<polygon points="1391.0,821.5 1381.3,827.1 1381.8,822.1 1380.7,817.2" fill="#ff0000"/>
<text x="-2" y="770" font-size="9.5" fill="#000" textLength="66" lengthAdjust="spacingAndGlyphs" >RSI(14) 63.4334</text>
<g shape-rendering="crispEdges">
<rect x="56" y="931" width="1" height="3" fill="#000"/>
<rect x="120" y="931" width="1" height="3" fill="#000"/>
<rect x="184" y="931" width="1" height="3" fill="#000"/>
<rect x="248" y="931" width="1" height="3" fill="#000"/>
<rect x="312" y="931" width="1" height="3" fill="#000"/>
<rect x="376" y="931" width="1" height="3" fill="#000"/>
<rect x="440" y="931" width="1" height="3" fill="#000"/>
<rect x="504" y="931" width="1" height="3" fill="#000"/>
<rect x="568" y="931" width="1" height="3" fill="#000"/>
<rect x="632" y="931" width="1" height="3" fill="#000"/>
<rect x="696" y="931" width="1" height="3" fill="#000"/>
<rect x="760" y="931" width="1" height="3" fill="#000"/>
<rect x="824" y="931" width="1" height="3" fill="#000"/>
<rect x="888" y="931" width="1" height="3" fill="#000"/>
<rect x="952" y="931" width="1" height="3" fill="#000"/>
<rect x="1016" y="931" width="1" height="3" fill="#000"/>
<rect x="1080" y="931" width="1" height="3" fill="#000"/>
<rect x="1144" y="931" width="1" height="3" fill="#000"/>
<rect x="1208" y="931" width="1" height="3" fill="#000"/>
<rect x="1272" y="931" width="1" height="3" fill="#000"/>
<rect x="1336" y="931" width="1" height="3" fill="#000"/>
</g>
<text x="-10" y="944" font-size="10" fill="#000" textLength="50.6" lengthAdjust="spacingAndGlyphs" >13 Oct 2021</text>
<text x="55" y="944" font-size="10" fill="#000" textLength="53.6" lengthAdjust="spacingAndGlyphs" >15 Oct 00:00</text>
<text x="119" y="944" font-size="10" fill="#000" textLength="53.6" lengthAdjust="spacingAndGlyphs" >18 Oct 08:00</text>
<text x="183" y="944" font-size="10" fill="#000" textLength="53.6" lengthAdjust="spacingAndGlyphs" >19 Oct 16:00</text>
<text x="247" y="944" font-size="10" fill="#000" textLength="53.6" lengthAdjust="spacingAndGlyphs" >21 Oct 00:00</text>
<text x="311" y="944" font-size="10" fill="#000" textLength="53.6" lengthAdjust="spacingAndGlyphs" >22 Oct 08:00</text>
<text x="375" y="944" font-size="10" fill="#000" textLength="53.6" lengthAdjust="spacingAndGlyphs" >25 Oct 16:00</text>
<text x="439" y="944" font-size="10" fill="#000" textLength="53.6" lengthAdjust="spacingAndGlyphs" >27 Oct 00:00</text>
<text x="503" y="944" font-size="10" fill="#000" textLength="53.6" lengthAdjust="spacingAndGlyphs" >28 Oct 08:00</text>
<text x="567" y="944" font-size="10" fill="#000" textLength="53.6" lengthAdjust="spacingAndGlyphs" >29 Oct 16:00</text>
<text x="631" y="944" font-size="10" fill="#000" textLength="50.8" lengthAdjust="spacingAndGlyphs" >2 Nov 00:00</text>
<text x="695" y="944" font-size="10" fill="#000" textLength="50.8" lengthAdjust="spacingAndGlyphs" >3 Nov 08:00</text>
<text x="759" y="944" font-size="10" fill="#000" textLength="50.8" lengthAdjust="spacingAndGlyphs" >4 Nov 16:00</text>
<text x="823" y="944" font-size="10" fill="#000" textLength="50.8" lengthAdjust="spacingAndGlyphs" >8 Nov 00:00</text>
<text x="887" y="944" font-size="10" fill="#000" textLength="50.8" lengthAdjust="spacingAndGlyphs" >9 Nov 08:00</text>
<text x="951" y="944" font-size="10" fill="#000" textLength="55.8" lengthAdjust="spacingAndGlyphs" >10 Nov 16:00</text>
<text x="1015" y="944" font-size="10" fill="#000" textLength="55.8" lengthAdjust="spacingAndGlyphs" >12 Nov 00:00</text>
<text x="1079" y="944" font-size="10" fill="#000" textLength="55.8" lengthAdjust="spacingAndGlyphs" >15 Nov 08:00</text>
<text x="1143" y="944" font-size="10" fill="#000" textLength="55.8" lengthAdjust="spacingAndGlyphs" >16 Nov 16:00</text>
<text x="1207" y="944" font-size="10" fill="#000" textLength="55.8" lengthAdjust="spacingAndGlyphs" >18 Nov 00:00</text>
<text x="1271" y="944" font-size="10" fill="#000" textLength="55.8" lengthAdjust="spacingAndGlyphs" >19 Nov 08:00</text>
<text x="1335" y="944" font-size="10" fill="#000" textLength="55.8" lengthAdjust="spacingAndGlyphs" >22 Nov 16:00</text>
<polygon points="0,41 0,38 3,41" fill="#000"/>
<text x="7.5" y="41.5" font-size="9.5" fill="#000" textLength="204" lengthAdjust="spacingAndGlyphs" >USDCHF-,H4  0.93327 0.93362 0.93304 0.93317</text>
<g shape-rendering="crispEdges">
<rect x="0" y="50" width="214" height="57" fill="#ffffff"/>
<rect x="0" y="50" width="46" height="25" fill="url(#gSell)"/>
<rect x="163" y="50" width="51" height="25" fill="url(#gSell)"/>
<rect x="0" y="74" width="104" height="33" fill="url(#gPrice)"/>
<rect x="106" y="74" width="108" height="33" fill="url(#gPrice)"/>
<rect x="0" y="74" width="43" height="1" fill="#f08080"/>
<rect x="166" y="74" width="44" height="1" fill="#f08080"/>
<rect x="46" y="50" width="117" height="24" fill="#ffffff"/>
<rect x="48.5" y="50.5" width="113" height="21" fill="#fff" stroke="#b8b8b8"/>
<rect x="50.5" y="51.5" width="19" height="19" fill="url(#gBtn)" stroke="#c0c0c0"/>
<rect x="139.5" y="51.5" width="19" height="19" fill="url(#gBtn)" stroke="#c0c0c0"/>
</g>
<polygon points="57,59 63,59 60,62.5" fill="#5060c8"/>
<polygon points="146,62.5 152,62.5 149,59" fill="#5060c8"/>
<text x="135" y="66" font-size="12" fill="#000" text-anchor="end" >1.00</text>
<text x="7.5" y="66" font-size="12.5" fill="#fff" textLength="25" lengthAdjust="spacingAndGlyphs" >SELL</text>
<text x="175.5" y="66" font-size="12.5" fill="#fff" textLength="23" lengthAdjust="spacingAndGlyphs" >BUY</text>
<text x="15" y="102" font-size="12" fill="#fff" textLength="24" lengthAdjust="spacingAndGlyphs" font-weight="bold" >0.93</text>
<text x="125" y="102" font-size="12" fill="#fff" textLength="24" lengthAdjust="spacingAndGlyphs" font-weight="bold" >0.93</text>
<text x="42.5" y="102" font-size="33" fill="#fff" textLength="35" lengthAdjust="spacingAndGlyphs" stroke="url(#gPriceU)" stroke-width="0.9">31</text>
<text x="153" y="102" font-size="33" fill="#fff" textLength="36" lengthAdjust="spacingAndGlyphs" stroke="url(#gPriceU)" stroke-width="0.9">34</text>
<text x="81" y="86.5" font-size="12" fill="#fff" font-weight="bold" >7</text>
<text x="193.5" y="86.5" font-size="12" fill="#fff" font-weight="bold" >3</text>
<polygon points="0,17.5 1.5,17 5,21 3.2,23.5 0,20.5" fill="#d8a830"/>
<circle cx="-6.3" cy="11.5" r="6" fill="#b8dcf4" stroke="#3878c8" stroke-width="1.5"/>
<rect x="12" y="3" width="1" height="21" fill="#a0a0a0" shape-rendering="crispEdges"/>
<path d="M22.8 6.5h7l3.5 3.5v9.5h-10.5z" fill="#fff" stroke="#686868" stroke-width="1" stroke-linejoin="round"/>
<path d="M29.8 6.5v3.5h3.5" fill="#e8e8e8" stroke="#686868" stroke-width="1"/>
<g shape-rendering="crispEdges"><rect x="24" y="8" width="3" height="2" fill="#909090"/><rect x="24" y="12" width="7" height="1" fill="#909090"/><rect x="24" y="14" width="5" height="1" fill="#909090"/><rect x="24" y="16" width="3" height="1" fill="#909090"/></g>
<path d="M30 13h4.5v3.500h3.500v4h-3.500v3.500h-4.500v-3.500h-3.500v-4h3.500z" fill="url(#gPlus)" stroke="#0a8a0a" stroke-width="0.8"/>
<text x="41" y="17" font-size="12" fill="#000" textLength="36" lengthAdjust="spacingAndGlyphs" style="font-family:'Liberation Sans','Noto Sans CJK SC',sans-serif;">新订单</text>
<path d="M89 16 L94.700 7.200 L104.500 13.300 L104.700 16.600 L98 21.800 Z" fill="#b87c14" stroke="#9a6408" stroke-width="1" stroke-linejoin="round"/>
<path d="M89.600 15.400 L94.900 7.800 L103.800 13.400 L97.900 19.200 Z" fill="url(#gGold)"/>
<path d="M90.500 16.800 L98 20.600 L104 16" fill="none" stroke="#f4dc90" stroke-width="0.7"/>
<path d="M119 7 L129.500 6.500 L130 15 L120 15 Z" fill="#1c96f4" stroke="#0a6cd0" stroke-width="0.8"/>
<path d="M122 8.500 L129 8.200 L129.300 14 L122.300 14 Z" fill="#5cc0ff"/>
<rect x="124" y="10" width="4.5" height="1.6" fill="#fff"/>
<path d="M119.500 21.500 C116 21.500 116.500 17.200 119.800 17.500 C120 14.500 124.500 14 125.500 16.500 C127 14.800 130 15.500 129.800 17.600 C133.500 17 134 21.500 130.500 21.500 Z" fill="url(#gCloud)" stroke="#4870b8" stroke-width="1"/>
<circle cx="153.2" cy="13.5" r="7.6" fill="none" stroke="#a0b8ec" stroke-width="1"/>
<circle cx="153.2" cy="13.5" r="5.2" fill="none" stroke="#7898e4" stroke-width="1"/>
<circle cx="153.2" cy="13.5" r="3.2" fill="none" stroke="#7898e4" stroke-width="0.8"/>
<path d="M153.200 13.500 L153.200 21.600 A8.100 8.100 0 0 0 157.600 6.700 Z" fill="#58b058" fill-opacity="0.6"/>
<circle cx="153.2" cy="13.5" r="2.2" fill="#2858d0"/>
<rect x="152.7" y="13.5" width="1.2" height="8" fill="#20a020"/>
<path d="M172.300 13 L188 13 L181 22 L178.500 21.500 Z" fill="#f8e048" stroke="#d8a820" stroke-width="0.8"/>
<ellipse cx="180" cy="11" rx="8" ry="2.8" fill="#58b4e4" stroke="#2888c0" stroke-width="0.8"/>
<ellipse cx="180.3" cy="9" rx="4.2" ry="3" fill="#68c0ec" stroke="#2888c0" stroke-width="0.8"/>
<circle cx="184.5" cy="17.8" r="4.3" fill="#e42408"/>
<rect x="183" y="16.3" width="3" height="3" fill="#fff"/>
<text x="193.5" y="17" font-size="12" fill="#000" textLength="48" lengthAdjust="spacingAndGlyphs" style="font-family:'Liberation Sans','Noto Sans CJK SC',sans-serif;">自动交易</text>
<rect x="248" y="1" width="1" height="25" fill="#808080" shape-rendering="crispEdges"/><rect x="249" y="1" width="1" height="25" fill="#fbfbfb" shape-rendering="crispEdges"/>
<g shape-rendering="crispEdges"><rect x="252" y="4" width="3" height="1" fill="#a0a0a0"/><rect x="252" y="6" width="3" height="1" fill="#a0a0a0"/><rect x="252" y="8" width="3" height="1" fill="#a0a0a0"/><rect x="252" y="10" width="3" height="1" fill="#a0a0a0"/><rect x="252" y="12" width="3" height="1" fill="#a0a0a0"/><rect x="252" y="14" width="3" height="1" fill="#a0a0a0"/><rect x="252" y="16" width="3" height="1" fill="#a0a0a0"/><rect x="252" y="18" width="3" height="1" fill="#a0a0a0"/><rect x="252" y="20" width="3" height="1" fill="#a0a0a0"/><rect x="252" y="22" width="3" height="1" fill="#a0a0a0"/></g>
<g shape-rendering="crispEdges"><rect x="266" y="9" width="1" height="13" fill="#505050"/><rect x="264" y="19" width="13" height="1" fill="#505050"/></g>
<polygon points="266.5,7.5 264.8,10.5 268.2,10.5" fill="#505050"/><polygon points="278.5,19.5 275.5,17.8 275.5,21.2" fill="#505050"/>
<g shape-rendering="crispEdges"><rect x="272" y="9" width="1" height="9" fill="#109010"/><rect x="272" y="10" width="3" height="1" fill="#109010"/><rect x="270" y="16" width="3" height="1" fill="#109010"/></g>
<g shape-rendering="crispEdges"><rect x="286" y="2" width="25" height="22" fill="url(#chk)"/><rect x="286" y="2" width="25" height="1" fill="#a0a0a0"/><rect x="286" y="2" width="1" height="22" fill="#a0a0a0"/><rect x="311" y="2" width="1" height="23" fill="#ffffff"/><rect x="286" y="24" width="25" height="1" fill="#ffffff"/></g>
<g shape-rendering="crispEdges"><rect x="294" y="9" width="1" height="13" fill="#505050"/><rect x="292" y="19" width="13" height="1" fill="#505050"/></g>
<polygon points="294.5,7.5 292.8,10.5 296.2,10.5" fill="#505050"/><polygon points="306.5,19.5 303.5,17.8 303.5,21.2" fill="#505050"/>
<g shape-rendering="crispEdges"><rect x="300" y="6" width="1" height="12" fill="#00a000"/><rect x="298.5" y="8.5" width="4" height="7" fill="#60ee60" stroke="#00a000"/></g>
<g shape-rendering="crispEdges"><rect x="322" y="9" width="1" height="13" fill="#505050"/><rect x="320" y="19" width="13" height="1" fill="#505050"/></g>
<polygon points="322.5,7.5 320.8,10.5 324.2,10.5" fill="#505050"/><polygon points="334.5,19.5 331.5,17.8 331.5,21.2" fill="#505050"/>
<path d="M321 16.800 C324 13 326 11 327.500 11.200 C329.500 11.500 330.500 14 332.800 15" fill="none" stroke="#209020" stroke-width="1.4"/>
<rect x="343" y="3" width="1" height="21" fill="#a0a0a0" shape-rendering="crispEdges"/>
<line x1="361.4" y1="16.2" x2="367" y2="20.9" stroke="#b89018" stroke-width="3.6"/>
<line x1="361.4" y1="16.2" x2="367" y2="20.9" stroke="#ecd848" stroke-width="2"/>
<circle cx="358" cy="12" r="5.3" fill="url(#gLens)" stroke="#3878d0" stroke-width="1.3"/>
<rect x="355" y="11.2" width="6" height="1.7" fill="#4088b0"/>
<rect x="357.15" y="9" width="1.7" height="6" fill="#4088b0"/>
<line x1="389.4" y1="16.2" x2="395" y2="20.9" stroke="#b89018" stroke-width="3.6"/>
<line x1="389.4" y1="16.2" x2="395" y2="20.9" stroke="#ecd848" stroke-width="2"/>
<circle cx="386" cy="12" r="5.3" fill="url(#gLens)" stroke="#3878d0" stroke-width="1.3"/>
<rect x="383" y="11.2" width="6" height="1.7" fill="#4088b0"/>
<g shape-rendering="crispEdges"><rect x="408" y="6" width="8" height="8" fill="#38a018"/><rect x="416" y="6" width="8" height="8" fill="#1c50cc"/><rect x="408" y="14" width="8" height="8" fill="#1c50cc"/><rect x="416" y="14" width="8" height="8" fill="#38a018"/><rect x="408" y="12" width="8" height="2" fill="#2c8810"/><rect x="416" y="12" width="8" height="2" fill="#1038a8"/><rect x="408" y="20" width="8" height="2" fill="#1038a8"/><rect x="416" y="20" width="8" height="2" fill="#2c8810"/><rect x="409" y="10" width="6" height="3" fill="#f4fff0"/><rect x="417" y="10" width="6" height="3" fill="#f0f4ff"/><rect x="409" y="18" width="6" height="3" fill="#f0f4ff"/><rect x="417" y="18" width="6" height="3" fill="#f4fff0"/><rect x="409" y="7" width="1" height="1" fill="#e8ffe0"/><rect x="417" y="7" width="1" height="1" fill="#e0e8ff"/><rect x="409" y="15" width="1" height="1" fill="#e0e8ff"/><rect x="417" y="15" width="1" height="1" fill="#e8ffe0"/><rect x="410" y="11" width="4" height="1" fill="#a8e090"/><rect x="418" y="11" width="4" height="1" fill="#98b0f0"/><rect x="410" y="19" width="4" height="1" fill="#98b0f0"/><rect x="418" y="19" width="4" height="1" fill="#a8e090"/></g>
<rect x="433" y="3" width="1" height="21" fill="#a0a0a0" shape-rendering="crispEdges"/>
<g shape-rendering="crispEdges"><rect x="438" y="2" width="25" height="22" fill="url(#chk)"/><rect x="438" y="2" width="25" height="1" fill="#a0a0a0"/><rect x="438" y="2" width="1" height="22" fill="#a0a0a0"/><rect x="463" y="2" width="1" height="23" fill="#ffffff"/><rect x="438" y="24" width="25" height="1" fill="#ffffff"/></g>
<g shape-rendering="crispEdges"><rect x="446" y="9" width="1" height="13" fill="#505050"/><rect x="444" y="19" width="13" height="1" fill="#505050"/></g>
<polygon points="446.5,7.5 444.8,10.5 448.2,10.5" fill="#505050"/><polygon points="458.5,19.5 455.5,17.8 455.5,21.2" fill="#505050"/>
<polygon points="451.3,10.4 451.3,16.8 454.9,13.6" fill="#88ea88" stroke="#12a012" stroke-width="1" stroke-linejoin="round"/>
<g shape-rendering="crispEdges"><rect x="466" y="2" width="25" height="22" fill="url(#chk)"/><rect x="466" y="2" width="25" height="1" fill="#a0a0a0"/><rect x="466" y="2" width="1" height="22" fill="#a0a0a0"/><rect x="491" y="2" width="1" height="23" fill="#ffffff"/><rect x="466" y="24" width="25" height="1" fill="#ffffff"/></g>
<g shape-rendering="crispEdges"><rect x="474" y="9" width="1" height="13" fill="#505050"/><rect x="472" y="19" width="13" height="1" fill="#505050"/></g>
<polygon points="474.5,7.5 472.8,10.5 476.2,10.5" fill="#505050"/><polygon points="486.5,19.5 483.5,17.8 483.5,21.2" fill="#505050"/>
<rect x="480" y="8" width="1" height="10" fill="#2070b0" shape-rendering="crispEdges"/><polygon points="481.2,13.5 484,11.2 483.4,13 486,13 486,14 483.4,14 484,15.8" fill="#e04c00"/>
<rect x="495" y="3" width="1" height="21" fill="#a0a0a0" shape-rendering="crispEdges"/>
<path d="M505.5 6.500h7.500l3.500 3.500v9.500h-11z" fill="#fff" stroke="#707070" stroke-linejoin="round"/><path d="M513 6.500v3.500h3.500" fill="#e8e8e8" stroke="#707070"/>
<path d="M508 9c-1 0-1 1.500-1 2.500s0 2-1 2c1 0 1 1 1 2s0 2.500 1 2.500" fill="none" stroke="#806020" stroke-width="0.9"/>
<path d="M512.500 12h4.500v3.500h3.500v4.500h-3.500v3.500h-4.500v-3.500h-3.500v-4.500h3.500z" fill="url(#gPlus)" stroke="#0a8a0a" stroke-width="0.8"/>
<polygon points="527,13 532,13 529.5,16" fill="#000"/>
<defs><linearGradient id="gClk" x1="0" y1="0" x2="0.6" y2="1"><stop offset="0" stop-color="#2c8cec"/><stop offset="1" stop-color="#0a4aa4"/></linearGradient></defs>
<circle cx="551" cy="13.9" r="6.6" fill="#eef2f6" stroke="url(#gClk)" stroke-width="2.6"/>
<g fill="#8090a0"><circle cx="555.30" cy="13.90" r="0.35"/><circle cx="554.72" cy="16.05" r="0.35"/><circle cx="553.15" cy="17.62" r="0.35"/><circle cx="551.00" cy="18.20" r="0.35"/><circle cx="548.85" cy="17.62" r="0.35"/><circle cx="547.28" cy="16.05" r="0.35"/><circle cx="546.70" cy="13.90" r="0.35"/><circle cx="547.28" cy="11.75" r="0.35"/><circle cx="548.85" cy="10.18" r="0.35"/><circle cx="551.00" cy="9.60" r="0.35"/><circle cx="553.15" cy="10.18" r="0.35"/><circle cx="554.72" cy="11.75" r="0.35"/></g>
<path d="M550.800 10v4h3.200" fill="none" stroke="#202020" stroke-width="1.3"/>
<polygon points="566,13 571,13 568.5,16" fill="#000"/>
<g shape-rendering="crispEdges"><rect x="582.5" y="7.5" width="15" height="13" fill="#fff" stroke="#3070c8"/><rect x="583" y="8" width="14" height="2" fill="#3c80d8"/><rect x="583" y="14" width="14" height="1" fill="#3070c8"/></g>
<polyline points="584.500,13.300 586.500,13.300 588,11.800 589.500,11.200 591,12.200 593,12.200 595,11.200 596,11.200" fill="none" stroke="#982010" stroke-width="1.4"/>
<polyline points="585.500,18.500 587,18.500 588.500,17.500 590.500,18.500 593,16.200 594.500,16.200 596,18.600" fill="none" stroke="#108828" stroke-width="1.4"/>
<polygon points="605,13 610,13 607.5,16" fill="#000"/>
<rect x="616" y="1" width="1" height="25" fill="#808080" shape-rendering="crispEdges"/><rect x="617" y="1" width="1" height="25" fill="#fbfbfb" shape-rendering="crispEdges"/>
<g shape-rendering="crispEdges"><rect x="620" y="4" width="3" height="1" fill="#a0a0a0"/><rect x="620" y="6" width="3" height="1" fill="#a0a0a0"/><rect x="620" y="8" width="3" height="1" fill="#a0a0a0"/><rect x="620" y="10" width="3" height="1" fill="#a0a0a0"/><rect x="620" y="12" width="3" height="1" fill="#a0a0a0"/><rect x="620" y="14" width="3" height="1" fill="#a0a0a0"/><rect x="620" y="16" width="3" height="1" fill="#a0a0a0"/><rect x="620" y="18" width="3" height="1" fill="#a0a0a0"/><rect x="620" y="20" width="3" height="1" fill="#a0a0a0"/><rect x="620" y="22" width="3" height="1" fill="#a0a0a0"/></g>
<g shape-rendering="crispEdges"><rect x="626" y="2" width="25" height="22" fill="url(#chk)"/><rect x="626" y="2" width="25" height="1" fill="#a0a0a0"/><rect x="626" y="2" width="1" height="22" fill="#a0a0a0"/><rect x="651" y="2" width="1" height="23" fill="#ffffff"/><rect x="626" y="24" width="25" height="1" fill="#ffffff"/></g>
<path d="M634 7 L634 19 L636.800 16.500 L639 21 L640.800 20.200 L638.600 15.800 L642.300 15.500 Z" fill="#505050"/>
<g shape-rendering="crispEdges" fill="#505050"><rect x="666" y="7" width="1" height="6"/><rect x="666" y="16" width="1" height="6"/><rect x="659" y="14" width="6" height="1"/><rect x="668" y="14" width="6" height="1"/><rect x="666" y="14" width="1" height="1" fill="#808060"/></g>
<rect x="683" y="3" width="1" height="21" fill="#a0a0a0" shape-rendering="crispEdges"/>
<g shape-rendering="crispEdges"><rect x="700" y="8" width="1" height="13" fill="#505050"/><rect x="723" y="14" width="12" height="1" fill="#505050"/></g>
<line x1="750.5" y1="21" x2="763" y2="9" stroke="#505050" stroke-width="1.1"/>
<g stroke="#484848" stroke-width="1"><line x1="776.8" y1="15.8" x2="785" y2="8"/><line x1="781.5" y1="21" x2="791.3" y2="12"/><line x1="778.2" y1="20.5" x2="780.2" y2="13.5"/><line x1="781.2" y1="18" x2="783.2" y2="11"/><line x1="784.2" y1="15" x2="786.2" y2="8.500"/><line x1="787.8" y1="12.500" x2="789" y2="6"/></g>
<text x="788" y="22.8" font-size="6.5" fill="#303030" font-weight="bold" >E</text>
<g shape-rendering="crispEdges" fill="#505050"><rect x="806" y="7" width="1" height="1"/><rect x="808" y="7" width="1" height="1"/><rect x="810" y="7" width="1" height="1"/><rect x="812" y="7" width="1" height="1"/><rect x="814" y="7" width="1" height="1"/><rect x="816" y="7" width="1" height="1"/><rect x="818" y="7" width="1" height="1"/><rect x="806" y="10" width="1" height="1"/><rect x="808" y="10" width="1" height="1"/><rect x="810" y="10" width="1" height="1"/><rect x="812" y="10" width="1" height="1"/><rect x="814" y="10" width="1" height="1"/><rect x="816" y="10" width="1" height="1"/><rect x="818" y="10" width="1" height="1"/><rect x="806" y="14" width="1" height="1"/><rect x="808" y="14" width="1" height="1"/><rect x="810" y="14" width="1" height="1"/><rect x="812" y="14" width="1" height="1"/><rect x="814" y="14" width="1" height="1"/><rect x="816" y="14" width="1" height="1"/><rect x="818" y="14" width="1" height="1"/><rect x="806" y="18" width="1" height="1"/><rect x="808" y="18" width="1" height="1"/><rect x="810" y="18" width="1" height="1"/><rect x="812" y="18" width="1" height="1"/><rect x="814" y="18" width="1" height="1"/></g>
<text x="816.2" y="22.8" font-size="6.5" fill="#303030" font-weight="bold" >F</text>
<text x="836.8" y="18.7" font-size="12" fill="#484848" textLength="7.6" lengthAdjust="spacingAndGlyphs" stroke="#484848" stroke-width="0.35">A</text>
<g shape-rendering="crispEdges" fill="#505050"><rect x="863" y="8" width="1" height="1"/><rect x="863" y="20" width="1" height="1"/><rect x="865" y="8" width="1" height="1"/><rect x="865" y="20" width="1" height="1"/><rect x="867" y="8" width="1" height="1"/><rect x="867" y="20" width="1" height="1"/><rect x="869" y="8" width="1" height="1"/><rect x="869" y="20" width="1" height="1"/><rect x="871" y="8" width="1" height="1"/><rect x="871" y="20" width="1" height="1"/><rect x="873" y="8" width="1" height="1"/><rect x="873" y="20" width="1" height="1"/><rect x="863" y="8" width="1" height="1"/><rect x="874" y="8" width="1" height="1"/><rect x="863" y="10" width="1" height="1"/><rect x="874" y="10" width="1" height="1"/><rect x="863" y="12" width="1" height="1"/><rect x="874" y="12" width="1" height="1"/><rect x="863" y="14" width="1" height="1"/><rect x="874" y="14" width="1" height="1"/><rect x="863" y="16" width="1" height="1"/><rect x="874" y="16" width="1" height="1"/><rect x="863" y="18" width="1" height="1"/><rect x="874" y="18" width="1" height="1"/><rect x="863" y="20" width="1" height="1"/><rect x="874" y="20" width="1" height="1"/><rect x="862" y="7" width="2" height="1"/></g>
<text x="865" y="18.7" font-size="11.5" fill="#484848" textLength="8" lengthAdjust="spacingAndGlyphs" font-weight="bold" >T</text>
<polygon points="893.500,8 897,11.500 893.500,13.500 890,11.500" fill="#505050"/><polygon points="900.500,21 897,17.500 900.500,15.500 904,17.500" fill="#505050"/><polyline points="892.500,15 895,17.500 899.500,11.500" fill="none" stroke="#505050" stroke-width="1.3"/>
<polygon points="911,13 916,13 913.5,16" fill="#000"/>
<rect x="922" y="1" width="1" height="25" fill="#808080" shape-rendering="crispEdges"/><rect x="923" y="1" width="1" height="25" fill="#fbfbfb" shape-rendering="crispEdges"/>
<g shape-rendering="crispEdges"><rect x="926" y="4" width="3" height="1" fill="#a0a0a0"/><rect x="926" y="6" width="3" height="1" fill="#a0a0a0"/><rect x="926" y="8" width="3" height="1" fill="#a0a0a0"/><rect x="926" y="10" width="3" height="1" fill="#a0a0a0"/><rect x="926" y="12" width="3" height="1" fill="#a0a0a0"/><rect x="926" y="14" width="3" height="1" fill="#a0a0a0"/><rect x="926" y="16" width="3" height="1" fill="#a0a0a0"/><rect x="926" y="18" width="3" height="1" fill="#a0a0a0"/><rect x="926" y="20" width="3" height="1" fill="#a0a0a0"/><rect x="926" y="22" width="3" height="1" fill="#a0a0a0"/></g>
<g shape-rendering="crispEdges"><rect x="1072" y="2" width="25" height="22" fill="url(#chk)"/><rect x="1072" y="2" width="25" height="1" fill="#a0a0a0"/><rect x="1072" y="2" width="1" height="22" fill="#a0a0a0"/><rect x="1097" y="2" width="1" height="23" fill="#ffffff"/><rect x="1072" y="24" width="25" height="1" fill="#ffffff"/></g>
<text x="937.5" y="18" font-size="9.5" fill="#404040" textLength="12.5" lengthAdjust="spacingAndGlyphs" >M1</text>
<text x="965.7" y="18" font-size="9.5" fill="#404040" textLength="12.7" lengthAdjust="spacingAndGlyphs" >M5</text>
<text x="991.4" y="18" font-size="9.5" fill="#404040" textLength="17.8" lengthAdjust="spacingAndGlyphs" >M15</text>
<text x="1019.4" y="18" font-size="9.5" fill="#404040" textLength="18.1" lengthAdjust="spacingAndGlyphs" >M30</text>
<text x="1050.5" y="18" font-size="9.5" fill="#404040" textLength="11.5" lengthAdjust="spacingAndGlyphs" >H1</text>
<text x="1077.6" y="18" font-size="9.5" fill="#404040" textLength="12.2" lengthAdjust="spacingAndGlyphs" >H4</text>
<text x="1106.3" y="18" font-size="9.5" fill="#404040" textLength="11.7" lengthAdjust="spacingAndGlyphs" >D1</text>
<text x="1133.9" y="18" font-size="9.5" fill="#404040" textLength="14.4" lengthAdjust="spacingAndGlyphs" >W1</text>
<text x="1160.4" y="18" font-size="9.5" fill="#404040" textLength="15.1" lengthAdjust="spacingAndGlyphs" >MN</text>
<rect x="1183" y="1" width="1" height="25" fill="#a0a0a0" shape-rendering="crispEdges"/>
<line x1="1650.800" y1="14.200" x2="1646" y2="18.800" stroke="#2058c8" stroke-width="2.200" stroke-linecap="round"/><circle cx="1653.800" cy="11.200" r="4" fill="#f4f6fa" stroke="#2860d8" stroke-width="1.3"/>
<path d="M1670.500 16 C1670.500 12 1673 11.500 1676 11.500 C1680 11.500 1681.500 13.500 1681.500 16 C1681.500 18.800 1679 20 1676.500 20 L1675 20 L1673.300 22.500 L1673.300 19.800 C1671.500 19.300 1670.500 18 1670.500 16 Z" fill="#e8eaf4" stroke="#b0b4bc" stroke-width="0.9"/>
<circle cx="1684.300" cy="11.500" r="8.3" fill="url(#gBadge)"/>
<text x="1684.3" y="16.2" font-size="13" fill="#fff" font-weight="bold" text-anchor="middle" >1</text>
</svg></body></html>
